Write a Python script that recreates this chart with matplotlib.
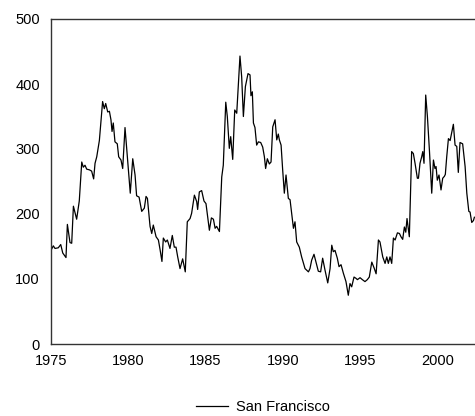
import matplotlib
matplotlib.use("Agg")
import matplotlib.pyplot as plt

years = [
    1975.04, 1975.15, 1975.26, 1975.47, 1975.63, 1975.76, 1975.97, 1976.06, 1976.23, 1976.34,
    1976.45, 1976.66, 1976.83, 1976.99, 1977.09, 1977.20, 1977.31, 1977.48, 1977.63, 1977.76,
    1977.85, 1977.96, 1978.13, 1978.34, 1978.45, 1978.54, 1978.67, 1978.78, 1978.88, 1978.95,
    1979.03, 1979.14, 1979.29, 1979.38, 1979.53, 1979.64, 1979.79, 1979.94, 1980.13, 1980.29,
    1980.44, 1980.54, 1980.70, 1980.87, 1981.04, 1981.15, 1981.24, 1981.41, 1981.52, 1981.62,
    1981.80, 1981.95, 1982.06, 1982.18, 1982.27, 1982.42, 1982.53, 1982.70, 1982.85, 1982.98,
    1983.09, 1983.20, 1983.35, 1983.52, 1983.69, 1983.82, 1984.00, 1984.10, 1984.28, 1984.43,
    1984.49, 1984.60, 1984.75, 1984.90, 1985.03, 1985.25, 1985.38, 1985.51, 1985.62, 1985.72,
    1985.90, 1986.05, 1986.15, 1986.31, 1986.41, 1986.54, 1986.63, 1986.76, 1986.89, 1987.02,
    1987.23, 1987.34, 1987.45, 1987.58, 1987.75, 1987.88, 1987.94, 1988.03, 1988.10, 1988.20,
    1988.31, 1988.42, 1988.57, 1988.70, 1988.81, 1988.89, 1989.00, 1989.13, 1989.24, 1989.35,
    1989.50, 1989.61, 1989.71, 1989.78, 1989.89, 1989.99, 1990.10, 1990.21, 1990.36, 1990.47,
    1990.69, 1990.79, 1990.90, 1991.07, 1991.22, 1991.44, 1991.66, 1991.76, 1991.87, 1992.02,
    1992.15, 1992.30, 1992.45, 1992.58, 1992.73, 1992.91, 1993.06, 1993.17, 1993.27, 1993.38,
    1993.53, 1993.64, 1993.77, 1993.92, 1994.09, 1994.24, 1994.35, 1994.46, 1994.61, 1994.74,
    1994.83, 1995.00, 1995.15, 1995.32, 1995.47, 1995.60, 1995.76, 1995.91, 1996.04, 1996.19,
    1996.29, 1996.47, 1996.62, 1996.73, 1996.83, 1996.94, 1997.05, 1997.16, 1997.27, 1997.42,
    1997.55, 1997.65, 1997.76, 1997.87, 1997.96, 1998.04, 1998.19, 1998.34, 1998.45, 1998.56,
    1998.71, 1998.78, 1998.88, 1998.99, 1999.06, 1999.14, 1999.25, 1999.36, 1999.49, 1999.64,
    1999.75, 1999.85, 1999.92, 2000.00, 2000.11, 2000.24, 2000.35, 2000.46, 2000.52, 2000.61,
    2000.72, 2000.83, 2000.93, 2001.04, 2001.15, 2001.26, 2001.36, 2001.47, 2001.64, 2001.80,
    2001.91, 2002.04, 2002.12, 2002.23, 2002.34, 2002.40,
]
san_francisco = [
    146, 151, 147, 148, 153, 140, 133, 184, 156, 155,
    212, 192, 220, 280, 272, 275, 269, 268, 266, 254,
    278, 288, 313, 373, 362, 370, 357, 358, 345, 327,
    340, 311, 308, 288, 283, 270, 333, 288, 232, 285,
    260, 228, 226, 204, 209, 227, 224, 181, 170, 183,
    165, 160, 145, 127, 163, 157, 160, 147, 167, 149,
    149, 134, 116, 131, 111, 188, 193, 201, 229, 219,
    207, 234, 236, 220, 216, 175, 194, 192, 178, 181,
    173, 257, 275, 372, 350, 301, 319, 284, 360, 355,
    443, 411, 350, 396, 416, 414, 382, 388, 340, 333,
    306, 311, 310, 303, 288, 270, 285, 277, 280, 334,
    345, 314, 323, 314, 306, 269, 232, 260, 224, 222,
    178, 188, 157, 149, 134, 116, 111, 116, 129, 138,
    126, 112, 111, 132, 114, 94, 116, 152, 142, 144,
    132, 119, 122, 109, 96, 75, 93, 88, 103, 101,
    99, 102, 99, 96, 99, 103, 126, 117, 108, 160,
    157, 134, 124, 134, 124, 134, 124, 163, 160, 171,
    170, 165, 161, 180, 172, 193, 165, 296, 293, 278,
    255, 255, 278, 288, 296, 278, 383, 350, 298, 232,
    283, 270, 273, 252, 260, 237, 255, 258, 261, 288,
    316, 313, 325, 338, 306, 304, 264, 310, 308, 273,
    232, 204, 203, 187, 190, 195,
]
x_ticks = [1975, 1980, 1985, 1990, 1995, 2000]
y_ticks = [0, 100, 200, 300, 400, 500]

plt.rcParams['font.family'] = ['Liberation Sans', 'DejaVu Sans']

fig = plt.figure(figsize=(4.75, 4.16), dpi=100)
ax = fig.add_axes([51 / 475, 1 - 344 / 416, 1 - 51 / 475, (344 - 19) / 416])

ax.plot(years, san_francisco, color='black', linewidth=0.9, label='San Francisco')

ax.set_xlim(1975, 2002.44)
ax.set_ylim(0, 500)
ax.set_xticks(x_ticks)
ax.set_yticks(y_ticks)
ax.tick_params(axis='both', length=0, labelsize=10.5, colors='black')
ax.tick_params(axis='y', pad=8)
ax.tick_params(axis='x', pad=7)

for side in ['left', 'top', 'bottom']:
    ax.spines[side].set_color('#333333')
    ax.spines[side].set_linewidth(1.0)
ax.spines['right'].set_visible(False)

ax.legend(loc='center', bbox_to_anchor=(0.5, -0.194), frameon=False,
          fontsize=10.5, handlelength=2.2, handletextpad=0.6)

fig.savefig('out.png', dpi=100)
